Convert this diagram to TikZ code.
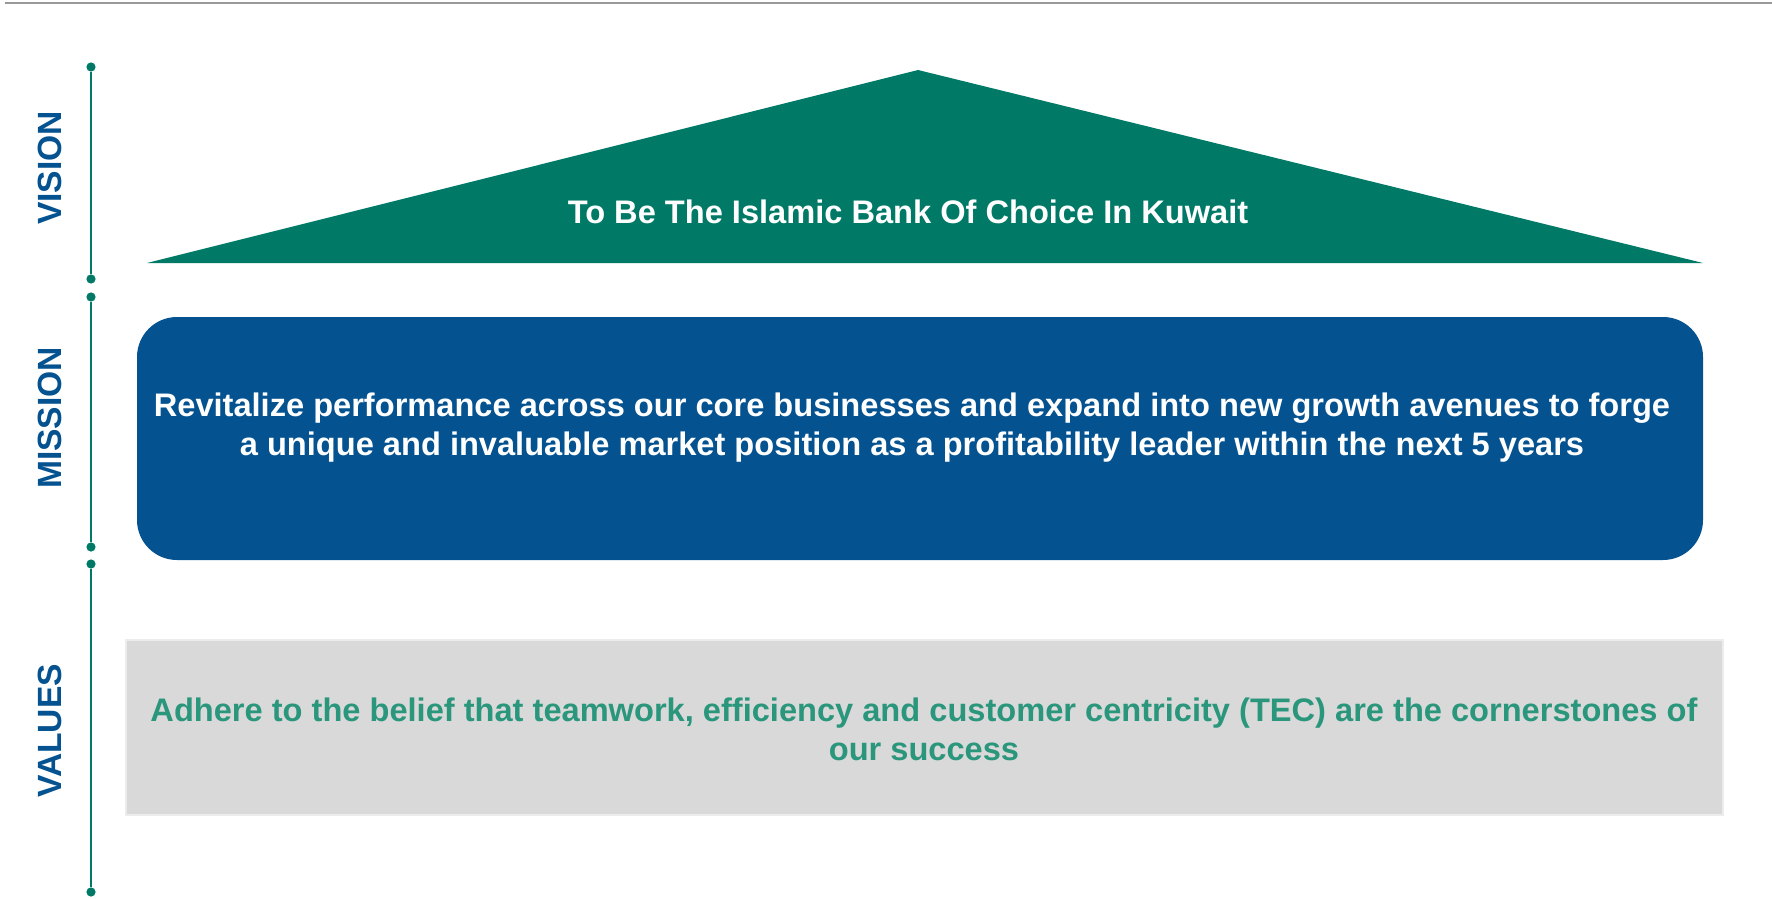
\documentclass[tikz,border=0pt]{standalone}
\usepackage{fontspec}
\setmainfont{Liberation Sans}
\usepackage{tikz}
\usetikzlibrary{positioning, calc}
\definecolor{KIBGreen}{RGB}{0, 122, 102}
\definecolor{KIBBlue}{RGB}{4, 82, 144}
\definecolor{ValueGreen}{RGB}{42, 150, 124}
\definecolor{BoxGray}{RGB}{217, 217, 217}

\begin{document}
\begin{tikzpicture}[x=0.5pt, y=-0.5pt,
    dot/.style={circle, fill=KIBGreen, inner sep=0pt, minimum size=4.6pt},
    stage/.style={rotate=90, text=KIBBlue, font=\fontsize{16.8}{20}\selectfont\bfseries},
    body/.style={inner sep=0pt, align=center, font=\fontsize{16.3}{19.5}\selectfont\bfseries}]
    \useasboundingbox (0,0) rectangle (1772,899);

    % 顶部分隔线
    \draw[gray!80, line width=1pt] (5,3) -- (1772,3);

    % 左侧时间轴 (三段)
    \node[dot] (v1) at (91,67) {};
    \node[dot] (v2) at (91,279) {};
    \node[dot] (m1) at (91,297) {};
    \node[dot] (m2) at (91,547) {};
    \node[dot] (s1) at (91,564) {};
    \node[dot] (s2) at (91,892) {};
    \draw[KIBGreen, line width=0.75pt] (v1) -- (v2);
    \draw[KIBGreen, line width=0.75pt] (m1) -- (m2);
    \draw[KIBGreen, line width=0.75pt] (s1) -- (s2);

    \node[stage] (vision) at (50,168) {VISION};
    \node[stage] (mission) at (50,418) {MISSION};
    \node[stage] (values) at (50,731) {VALUES};

    % 1. Vision (绿色屋顶)
    \fill[KIBGreen] (147,263) -- (918,70) -- (1703,263) -- cycle;
    \node[body, text=white, anchor=base] (visiontxt) at (908,223) {To Be The Islamic Bank Of Choice In Kuwait};

    % 2. Mission (蓝色圆角框)
    \fill[KIBBlue, rounded corners=20pt] (137,317) rectangle (1703,560);
    \node[body, text=white] (missiontxt) at (912,428)
        {Revitalize performance across our core businesses and expand into new growth avenues to forge\\
         a unique and invaluable market position as a profitability leader within the next 5 years};

    % 3. Values (灰色底框)
    \filldraw[fill=BoxGray, draw=gray!15, line width=0.75pt] (126,640) rectangle (1723,815);
    \node[body, text=ValueGreen] (valuestxt) at (924,729)
        {Adhere to the belief that teamwork, efficiency and customer centricity (TEC) are the cornerstones of\\
         our success};
\end{tikzpicture}
\end{document}
